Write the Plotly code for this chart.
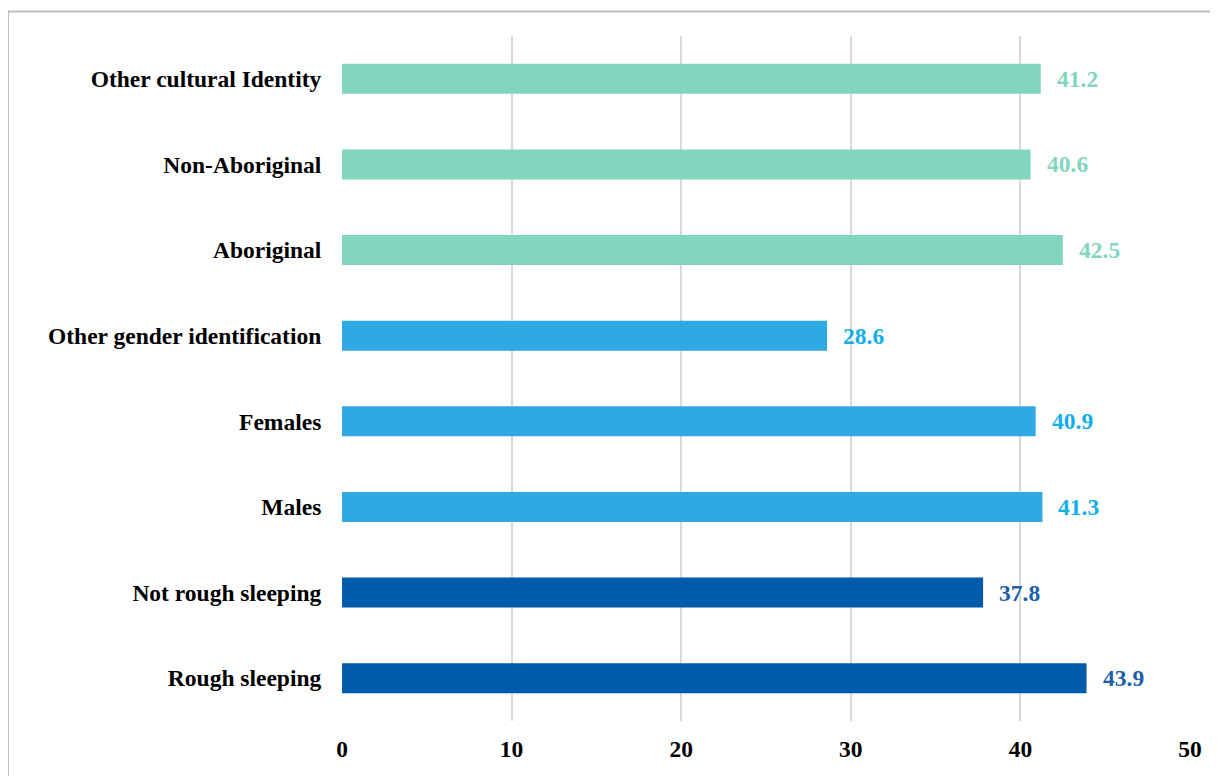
import plotly.graph_objects as go

categories = ["Rough sleeping", "Not rough sleeping", "Males", "Females",
              "Other gender identification", "Aboriginal", "Non-Aboriginal",
              "Other cultural Identity"]
values = [43.9, 37.8, 41.3, 40.9, 28.6, 42.5, 40.6, 41.2]
bar_colors = ["#005BAA", "#005BAA", "#2EA9E1", "#2EA9E1", "#2EA9E1",
              "#82D5BE", "#82D5BE", "#82D5BE"]
label_colors = ["#1F5FAA", "#1F5FAA", "#12AEEA", "#12AEEA", "#12AEEA",
                "#82D5BE", "#82D5BE", "#82D5BE"]
x_ticks = [0, 10, 20, 30, 40, 50]

FONT = "Liberation Serif, Times New Roman, serif"
FS = 23.5

fig = go.Figure()
fig.add_trace(go.Bar(
    y=categories, x=values, orientation="h",
    marker=dict(color=bar_colors, line=dict(width=0)),
    width=0.35, hoverinfo="skip",
))

for c, v, col in zip(categories, values, label_colors):
    fig.add_annotation(x=v, y=c, text=f"<b>{v:.1f}</b>", showarrow=False,
                       xanchor="left", xshift=14,
                       font=dict(family=FONT, size=FS, color=col))

fig.add_shape(type="rect", xref="paper", yref="paper",
              x0=-0.3939, x1=1.2, y0=-0.2, y1=1.0358,
              line=dict(color="#BFBFBF", width=2), fillcolor="rgba(0,0,0,0)",
              layer="below")

fig.update_layout(
    width=1218, height=776,
    margin=dict(l=334, r=36, t=28, b=63),
    paper_bgcolor="white", plot_bgcolor="white",
    showlegend=False,
    font=dict(family=FONT, size=FS, color="black"),
    xaxis=dict(range=[0, 50], tickvals=x_ticks,
               ticktext=[f"<b>{t}</b>" for t in x_ticks],
               showgrid=True, gridcolor="#D9D9D9", gridwidth=2,
               zeroline=False, showline=False,
               ticks="outside", ticklen=7, tickcolor="rgba(0,0,0,0)",
               tickfont=dict(family=FONT, size=FS, color="black"),
               fixedrange=True),
    yaxis=dict(categoryorder="array", categoryarray=categories,
               tickvals=categories,
               ticktext=[f"<b>{c}</b>" for c in categories],
               showgrid=False, zeroline=False, showline=False,
               ticks="outside", ticklen=15, tickcolor="rgba(0,0,0,0)",
               tickfont=dict(family=FONT, size=FS, color="black"),
               range=[-0.5, 7.5], fixedrange=True),
)

fig.write_html("out.html")
